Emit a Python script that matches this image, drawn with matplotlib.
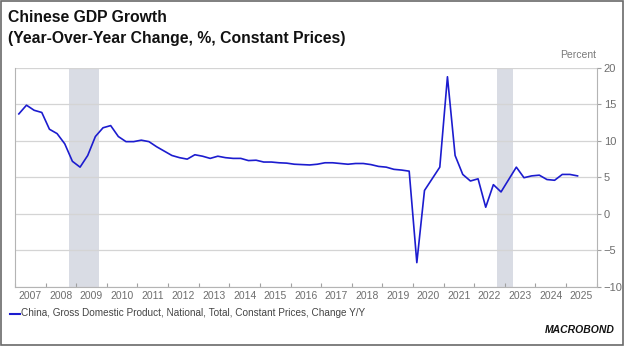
import numpy as np
import matplotlib.pyplot as plt
from matplotlib.ticker import FixedLocator, NullFormatter

plt.rcParams['font.family'] = ['Liberation Sans', 'DejaVu Sans']

# quarterly y/y growth, 2007Q1 .. 2025Q2
start_year = 2007
gdp_growth = [
    13.7, 14.9, 14.2, 13.9,   # 2007
    11.6, 11.0, 9.6, 7.2,     # 2008
    6.4, 8.0, 10.6, 11.8,     # 2009
    12.1, 10.6, 9.9, 9.9,     # 2010
    10.1, 9.9, 9.2, 8.6,      # 2011
    8.0, 7.7, 7.5, 8.1,       # 2012
    7.9, 7.6, 7.9, 7.7,       # 2013
    7.6, 7.6, 7.3, 7.35,      # 2014
    7.1, 7.1, 7.0, 6.95,      # 2015
    6.8, 6.75, 6.7, 6.8,      # 2016
    7.0, 7.0, 6.9, 6.8,       # 2017
    6.9, 6.9, 6.75, 6.5,      # 2018
    6.4, 6.1, 6.0, 5.85,      # 2019
    -6.7, 3.2, 4.8, 6.4,      # 2020
    18.8, 8.0, 5.4, 4.5,      # 2021
    4.8, 0.9, 4.0, 3.0,       # 2022
    4.7, 6.4, 4.95, 5.2,      # 2023
    5.3, 4.7, 4.6, 5.4,       # 2024
    5.4, 5.2,                 # 2025
]
shaded = [(2008.75, 2009.75), (2022.75, 2023.25)]
years = list(range(2007, 2026))
series_label = "China, Gross Domestic Product, National, Total, Constant Prices, Change Y/Y"

t = start_year + 0.125 + 0.25 * np.arange(len(gdp_growth))

fig = plt.figure(figsize=(6.24, 3.46), dpi=100)
ax = fig.add_axes([15 / 624, 1 - 286.7 / 346, (596.7 - 15) / 624, (286.7 - 68) / 346])

for a, b in shaded:
    ax.axvspan(a, b, color='#d9dce4', lw=0, zorder=0)

ax.plot(t, gdp_growth, color='#1c1ccf', lw=1.2, zorder=3)

ax.set_xlim(2007, 2026)
ax.set_ylim(-10, 20)
ax.set_yticks(range(-10, 21, 5))
ax.yaxis.tick_right()
ax.grid(axis='y', color='#d4d4d4', lw=0.9, zorder=1)

ax.xaxis.set_major_locator(FixedLocator(range(2007, 2027)))
ax.xaxis.set_major_formatter(NullFormatter())
ax.xaxis.set_minor_locator(FixedLocator([y + 0.5 for y in years]))
ax.set_xticklabels([str(y) for y in years], minor=True)
ax.tick_params(axis='x', which='major', direction='in', length=3, color='#a0a0a0')
ax.tick_params(axis='x', which='minor', length=0, pad=3, labelsize=7.5, labelcolor='#6e6e6e')
ax.tick_params(axis='y', direction='out', length=3, color='#a0a0a0', pad=2,
               labelsize=8, labelcolor='#6e6e6e')

for side in ['left', 'bottom', 'right']:
    ax.spines[side].set_color('#b4b4b4')
    ax.spines[side].set_linewidth(0.8)
ax.spines['top'].set_visible(False)

fig.text(8 / 624, 1 - 17 / 346, "Chinese GDP Growth", fontsize=11.3, fontweight='bold',
         va='center', ha='left', color='#111111')
fig.text(8 / 624, 1 - 38 / 346, "(Year-Over-Year Change, %, Constant Prices)", fontsize=11.3,
         fontweight='bold', va='center', ha='left', color='#111111')
fig.text(596 / 624, 1 - 55 / 346, "Percent", fontsize=7.5, color='#7a7a7a', ha='right', va='center')

# legend
fig.lines.append(plt.Line2D([10 / 624, 20 / 624], [1 - 313.5 / 346] * 2, transform=fig.transFigure,
                            color='#1c1ccf', lw=1.5))
fig.text(21 / 624, 1 - 313.5 / 346, series_label, fontsize=7.2, color='#444444', ha='left', va='center')

fig.text(615 / 624, 1 - 330 / 346, "MACROBOND", fontsize=7.5, fontweight='bold', style='italic',
         color='#111111', ha='right', va='center')

# outer frame
fig.patches.append(plt.Rectangle((0.0015, 0.0025), 0.997, 0.995, transform=fig.transFigure,
                                 fill=False, edgecolor='#6a6a6a', lw=1.2))

fig.savefig('out.png', dpi=100)
